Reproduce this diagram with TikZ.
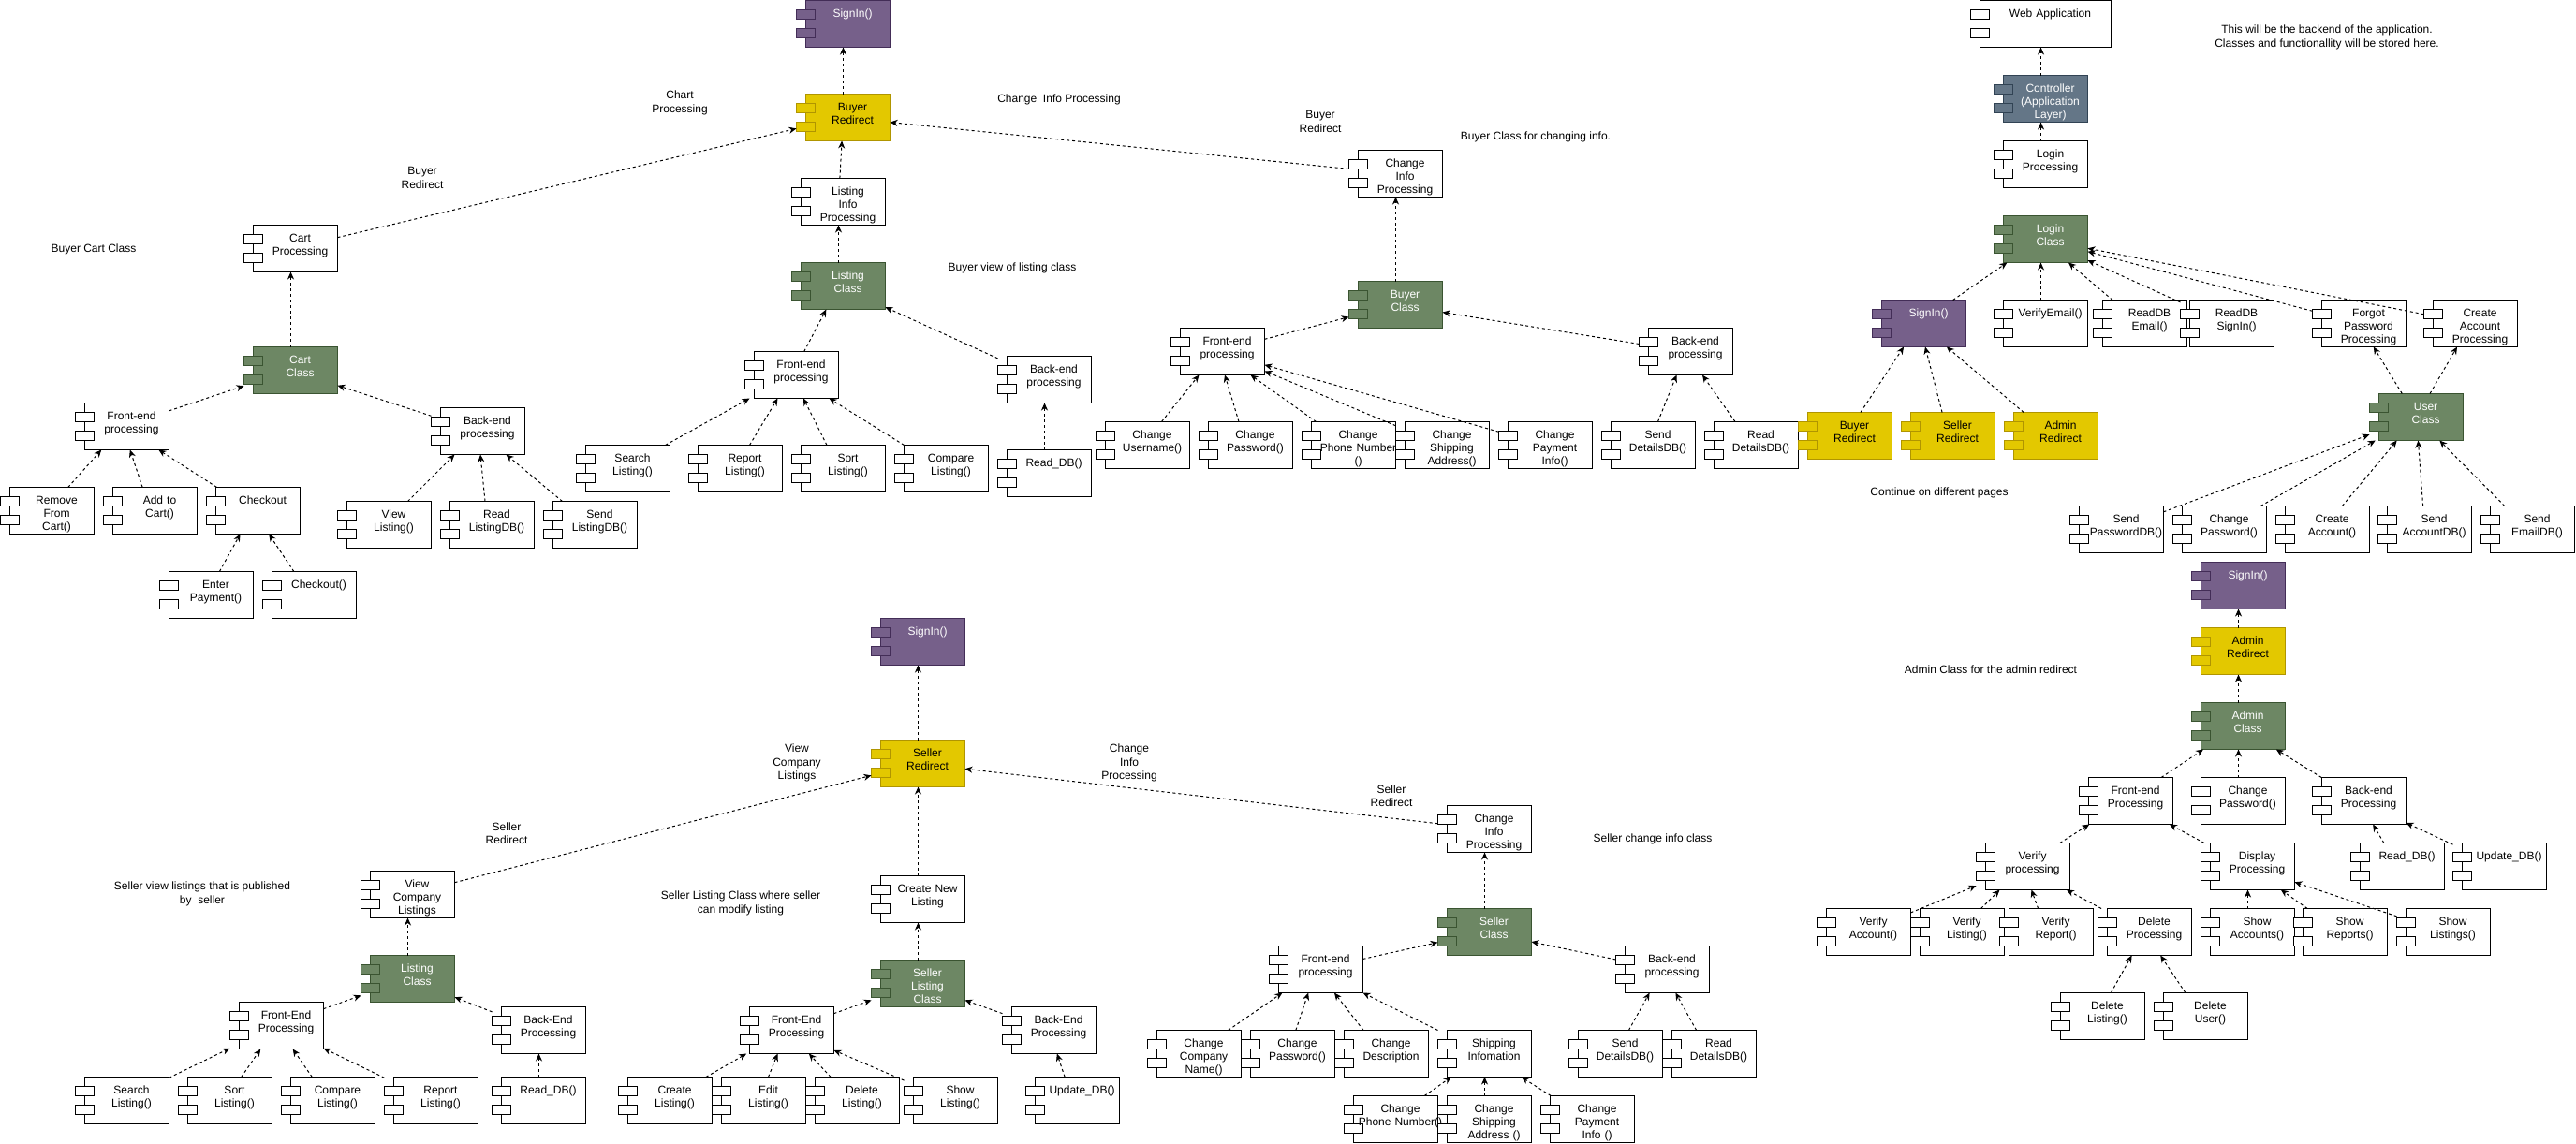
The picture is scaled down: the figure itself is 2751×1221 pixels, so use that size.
\documentclass[tikz,border=0pt]{standalone}
\usepackage{fontspec}
\setmainfont{Liberation Sans}
\usetikzlibrary{arrows.meta}

\definecolor{grnF}{HTML}{6D8764}
\definecolor{grnD}{HTML}{3A5431}
\definecolor{purF}{HTML}{76608A}
\definecolor{purD}{HTML}{432D57}
\definecolor{yelF}{HTML}{E3C800}
\definecolor{yelD}{HTML}{B09500}
\definecolor{slaF}{HTML}{647687}
\definecolor{slaD}{HTML}{314354}

\tikzset{
  kplain/.style={draw=black, fill=white, text=black, line width=1pt},
  kgreen/.style={draw=grnD, fill=grnF, text=white, line width=1pt},
  kpurple/.style={draw=purD, fill=purF, text=white, line width=1pt},
  kyellow/.style={draw=yelD, fill=yelF, text=black, line width=1pt},
  kslate/.style={draw=slaD, fill=slaF, text=white, line width=1pt},
  hull/.style={rectangle, draw=none, fill=none, inner sep=0pt, outer sep=0pt, minimum height=50pt},
  boxtext/.style={anchor=base, inner sep=0pt, text width=140pt, align=center,
    font=\fontsize{12}{14.4}\selectfont},
  note/.style={inner sep=0pt, align=center, font=\fontsize{12}{14.4}\selectfont},
  dep/.style={draw=black, line width=1pt, dash pattern=on 3pt off 3pt,
    -{Stealth[length=8pt,width=7pt,inset=2.5pt]}}
}

% component box: [body width]{name}{kind}{left}{top}{label}
\newcommand\comp[6][90]{%
  \pgfmathsetmacro\cmpW{#1}%
  \pgfmathsetmacro\cmpHullW{#1+10}%
  \pgfmathsetmacro\cmpCx{#4-10+(#1+10)/2}%
  \pgfmathsetmacro\cmpCy{#5+25}%
  \pgfmathsetmacro\cmpPx{#4-10}%
  \pgfmathsetmacro\cmpPa{#5+10}%
  \pgfmathsetmacro\cmpPb{#5+30}%
  \pgfmathsetmacro\cmpTx{#4+#1/2+5}%
  \pgfmathsetmacro\cmpTy{#5+17.5}%
  \node[hull, minimum width=\cmpHullW pt] (#2) at (\cmpCx,\cmpCy) {};
  \path[#3] (#4,#5) rectangle ++(\cmpW,50);
  \path[#3] (\cmpPx,\cmpPa) rectangle ++(20,10) (\cmpPx,\cmpPb) rectangle ++(20,10);
  \node[boxtext, #3, draw=none, fill=none] at (\cmpTx,\cmpTy) {#6};
}

\begin{document}
\begin{tikzpicture}[x=1pt, y=-1pt]
\fill[white] (0,0) rectangle (2751,1221);
\useasboundingbox (0,0) rectangle (2751,1221);

% ---------- buyer: cart ----------
\comp{cartProc}{kplain}{270.5}{240.5}{Cart\\Processing}
\comp{cartCls}{kgreen}{270.5}{370.5}{Cart\\Class}
\comp{cartFE}{kplain}{90.5}{430.5}{Front-end\\processing}
\comp{cartBE}{kplain}{470.5}{435.5}{Back-end\\processing}
\comp{rmCart}{kplain}{10.5}{520.5}{Remove\\From\\Cart()}
\comp{addCart}{kplain}{120.5}{520.5}{Add to\\Cart()}
\comp{chkout}{kplain}{230.5}{520.5}{Checkout}
\comp{payIn}{kplain}{180.5}{610.5}{Enter\\Payment()}
\comp{chkoutFn}{kplain}{290.5}{610.5}{Checkout()}
\comp{viewLst}{kplain}{370.5}{535.5}{View\\Listing()}
\comp{readLst}{kplain}{480.5}{535.5}{Read\\ListingDB()}
\comp{sendLst}{kplain}{590.5}{535.5}{Send\\ListingDB()}

% ---------- buyer: listing ----------
\comp{signA}{kpurple}{860.5}{0.5}{SignIn()}
\comp{buyRed}{kyellow}{860.5}{100.5}{Buyer\\Redirect}
\comp{lstInfo}{kplain}{855.5}{190.5}{Listing\\Info\\Processing}
\comp{lstCls}{kgreen}{855.5}{280.5}{Listing\\Class}
\comp{lstFE}{kplain}{805.5}{375.5}{Front-end\\processing}
\comp{lstBE}{kplain}{1075.5}{380.5}{Back-end\\processing}
\comp{srchL}{kplain}{625.5}{475.5}{Search\\Listing()}
\comp{reptL}{kplain}{745.5}{475.5}{Report\\Listing()}
\comp{sortL}{kplain}{855.5}{475.5}{Sort\\Listing()}
\comp{cmpL}{kplain}{965.5}{475.5}{Compare\\Listing()}
\comp{rdbL}{kplain}{1075.5}{480.5}{Read\_DB()}

% ---------- buyer: change info ----------
\comp{chgInfoB}{kplain}{1450.5}{160.5}{Change\\Info\\Processing}
\comp{buyCls}{kgreen}{1450.5}{300.5}{Buyer\\Class}
\comp{buyFE}{kplain}{1260.5}{350.5}{Front-end\\processing}
\comp{buyBE}{kplain}{1760.5}{350.5}{Back-end\\processing}
\comp{chUser}{kplain}{1180.5}{450.5}{Change\\Username()}
\comp{chPassB}{kplain}{1290.5}{450.5}{Change\\Password()}
\comp{chPhoneB}{kplain}{1400.5}{450.5}{Change\\Phone Number\\()}
\comp{chShipB}{kplain}{1500.5}{450.5}{Change\\Shipping\\Address()}
\comp{chPayB}{kplain}{1610.5}{450.5}{Change\\Payment\\Info()}
\comp{sendDetB}{kplain}{1720.5}{450.5}{Send\\DetailsDB()}
\comp{readDetB}{kplain}{1830.5}{450.5}{Read\\DetailsDB()}

% ---------- login / backend ----------
\comp[140]{webApp}{kplain}{2114.5}{0.5}{Web Application}
\comp{ctrl}{kslate}{2139.5}{80.5}{Controller\\(Application\\Layer)}
\comp{loginProc}{kplain}{2139.5}{150.5}{Login\\Processing}
\comp{loginCls}{kgreen}{2139.5}{230.5}{Login\\Class}
\comp{signL}{kpurple}{2009.5}{320.5}{SignIn()}
\comp{vEmail}{kplain}{2139.5}{320.5}{VerifyEmail()}
\comp{rdbEmail}{kplain}{2245.5}{320.5}{ReadDB\\Email()}
\comp{rdbSign}{kplain}{2338.5}{320.5}{ReadDB\\SignIn()}
\comp{forgot}{kplain}{2479.5}{320.5}{Forgot\\Password\\Processing}
\comp{newAcc}{kplain}{2598.5}{320.5}{Create\\Account\\Processing}
\comp{buyRedL}{kyellow}{1930.5}{440.5}{Buyer\\Redirect}
\comp{selRedL}{kyellow}{2040.5}{440.5}{Seller\\Redirect}
\comp{admRedL}{kyellow}{2150.5}{440.5}{Admin\\Redirect}
\comp{userCls}{kgreen}{2540.5}{420.5}{User\\Class}
\comp{sendPwd}{kplain}{2220.5}{540.5}{Send\\PasswordDB()}
\comp{chPassU}{kplain}{2330.5}{540.5}{Change\\Password()}
\comp{mkAcc}{kplain}{2440.5}{540.5}{Create\\Account()}
\comp{sendAcc}{kplain}{2549.5}{540.5}{Send\\AccountDB()}
\comp{sendMail}{kplain}{2659.5}{540.5}{Send\\EmailDB()}

% ---------- admin ----------
\comp{signAd}{kpurple}{2350.5}{600.5}{SignIn()}
\comp{admRed}{kyellow}{2350.5}{670.5}{Admin\\Redirect}
\comp{admCls}{kgreen}{2350.5}{750.5}{Admin\\Class}
\comp{admFE}{kplain}{2230.5}{830.5}{Front-end\\Processing}
\comp{chPassA}{kplain}{2350.5}{830.5}{Change\\Password()}
\comp{admBE}{kplain}{2479.5}{830.5}{Back-end\\Processing}
\comp{verProc}{kplain}{2120.5}{900.5}{Verify\\processing}
\comp{dispProc}{kplain}{2360.5}{900.5}{Display\\Processing}
\comp{rdbA}{kplain}{2520.5}{900.5}{Read\_DB()}
\comp{udbA}{kplain}{2629.5}{900.5}{Update\_DB()}
\comp{verAcc}{kplain}{1950.5}{970.5}{Verify\\Account()}
\comp{verLst}{kplain}{2050.5}{970.5}{Verify\\Listing()}
\comp{verRep}{kplain}{2145.5}{970.5}{Verify\\Report()}
\comp{delProc}{kplain}{2250.5}{970.5}{Delete\\Processing}
\comp{showAcc}{kplain}{2360.5}{970.5}{Show\\Accounts()}
\comp{showRep}{kplain}{2459.5}{970.5}{Show\\Reports()}
\comp{showLst}{kplain}{2569.5}{970.5}{Show\\Listings()}
\comp{delLst}{kplain}{2200.5}{1060.5}{Delete\\Listing()}
\comp{delUsr}{kplain}{2310.5}{1060.5}{Delete\\User()}

% ---------- seller: view listings ----------
\comp{signS}{kpurple}{940.5}{660.5}{SignIn()}
\comp{selRed}{kyellow}{940.5}{790.5}{Seller\\Redirect}
\comp{viewCo}{kplain}{395.5}{930.5}{View\\Company\\Listings}
\comp{lstClsS}{kgreen}{395.5}{1020.5}{Listing\\Class}
\comp{svFE}{kplain}{255.5}{1070.5}{Front-End\\Processing}
\comp{svBE}{kplain}{535.5}{1075.5}{Back-End\\Processing}
\comp{srchS}{kplain}{90.5}{1150.5}{Search\\Listing()}
\comp{sortS}{kplain}{200.5}{1150.5}{Sort\\Listing()}
\comp{cmpS}{kplain}{310.5}{1150.5}{Compare\\Listing()}
\comp{repS}{kplain}{420.5}{1150.5}{Report\\Listing()}
\comp{rdbS}{kplain}{535.5}{1150.5}{Read\_DB()}

% ---------- seller: listing management ----------
\comp{newLst}{kplain}{940.5}{935.5}{Create New\\Listing}
\comp{selLstCls}{kgreen}{940.5}{1025.5}{Seller\\Listing\\Class}
\comp{slFE}{kplain}{800.5}{1075.5}{Front-End\\Processing}
\comp{slBE}{kplain}{1080.5}{1075.5}{Back-End\\Processing}
\comp{mkLst}{kplain}{670.5}{1150.5}{Create\\Listing()}
\comp{edLst}{kplain}{770.5}{1150.5}{Edit\\Listing()}
\comp{dlLst}{kplain}{870.5}{1150.5}{Delete\\Listing()}
\comp{shLst}{kplain}{975.5}{1150.5}{Show\\Listing()}
\comp{udbS}{kplain}{1105.5}{1150.5}{Update\_DB()}

% ---------- seller: change info ----------
\comp{chgInfoS}{kplain}{1545.5}{860.5}{Change\\Info\\Processing}
\comp{selCls}{kgreen}{1545.5}{970.5}{Seller\\Class}
\comp{scFE}{kplain}{1365.5}{1010.5}{Front-end\\processing}
\comp{scBE}{kplain}{1735.5}{1010.5}{Back-end\\processing}
\comp{chComp}{kplain}{1235.5}{1100.5}{Change\\Company\\Name()}
\comp{chPassS}{kplain}{1335.5}{1100.5}{Change\\Password()}
\comp{chDesc}{kplain}{1435.5}{1100.5}{Change\\Description}
\comp{shipInfo}{kplain}{1545.5}{1100.5}{Shipping\\Infomation}
\comp{sendDetS}{kplain}{1685.5}{1100.5}{Send\\DetailsDB()}
\comp{readDetS}{kplain}{1785.5}{1100.5}{Read\\DetailsDB()}
\comp{chPhoneS}{kplain}{1445.5}{1170.5}{Change\\Phone Number()}
\comp{chShipS}{kplain}{1545.5}{1170.5}{Change\\Shipping\\Address ()}
\comp{chPayS}{kplain}{1655.5}{1170.5}{Change\\Payment\\Info ()}

% ---------- free labels ----------
\node[note] (nCart) at (100,266) {Buyer Cart Class};
\node[note] (nBR1) at (451,190) {Buyer\\Redirect};
\node[note] (nChart) at (726,110) {Chart\\Processing};
\node[note] (nChg) at (1131,106) {Change\ \ Info Processing};
\node[note] (nBView) at (1081,286) {Buyer view of listing class};
\node[note] (nBR2) at (1410,130) {Buyer\\Redirect};
\node[note] (nBChg) at (1640,146) {Buyer Class for changing info.};
\node[note] (nBack) at (2485,40) {This will be the backend of the application.\\Classes and functionallity will be stored here.};
\node[note] (nCont) at (2071,526) {Continue on different pages};
\node[note] (nAdm) at (2126,715) {Admin Class for the admin redirect};
\node[note] (nVCL) at (851,815) {View\\Company\\Listings};
\node[note] (nCIP) at (1206,815) {Change\\Info\\Processing};
\node[note] (nSR1) at (541,890) {Seller\\Redirect};
\node[note] (nSView) at (216,955) {Seller view listings that is published\\by\ \ seller};
\node[note] (nSLst) at (791,965) {Seller Listing Class where seller\\can modify listing};
\node[note] (nSR2) at (1486,850) {Seller\\Redirect};
\node[note] (nSChg) at (1765,896) {Seller change info class};

% ---------- dependencies ----------
\draw[dep] (buyRed) -- (signA);
\draw[dep] (cartProc) -- (buyRed);
\draw[dep] (lstInfo) -- (buyRed);
\draw[dep] (chgInfoB) -- (buyRed);
\draw[dep] (cartCls) -- (cartProc);
\draw[dep] (cartFE) -- (cartCls);
\draw[dep] (cartBE) -- (cartCls);
\foreach \s in {rmCart,addCart,chkout} \draw[dep] (\s) -- (cartFE);
\foreach \s in {payIn,chkoutFn} \draw[dep] (\s) -- (chkout);
\foreach \s in {viewLst,readLst,sendLst} \draw[dep] (\s) -- (cartBE);

\draw[dep] (lstCls) -- (lstInfo);
\draw[dep] (lstFE) -- (lstCls);
\draw[dep] (lstBE) -- (lstCls);
\foreach \s in {srchL,reptL,sortL,cmpL} \draw[dep] (\s) -- (lstFE);
\draw[dep] (rdbL) -- (lstBE);

\draw[dep] (buyCls) -- (chgInfoB);
\draw[dep] (buyFE) -- (buyCls);
\draw[dep] (buyBE) -- (buyCls);
\foreach \s in {chUser,chPassB,chPhoneB,chShipB,chPayB} \draw[dep] (\s) -- (buyFE);
\foreach \s in {sendDetB,readDetB} \draw[dep] (\s) -- (buyBE);

\draw[dep] (ctrl) -- (webApp);
\draw[dep] (loginProc) -- (ctrl);
\foreach \s in {signL,vEmail,rdbEmail,rdbSign,forgot,newAcc} \draw[dep] (\s) -- (loginCls);
\draw[dep] (userCls) -- (forgot);
\draw[dep] (userCls) -- (newAcc);
\foreach \s in {sendPwd,chPassU,mkAcc,sendAcc,sendMail} \draw[dep] (\s) -- (userCls);
\foreach \s in {buyRedL,selRedL,admRedL} \draw[dep] (\s) -- (signL);

\draw[dep] (admRed) -- (signAd);
\draw[dep] (admCls) -- (admRed);
\foreach \s in {admFE,chPassA,admBE} \draw[dep] (\s) -- (admCls);
\foreach \s in {verProc,dispProc} \draw[dep] (\s) -- (admFE);
\foreach \s in {rdbA,udbA} \draw[dep] (\s) -- (admBE);
\foreach \s in {verAcc,verLst,verRep,delProc} \draw[dep] (\s) -- (verProc);
\foreach \s in {showAcc,showRep,showLst} \draw[dep] (\s) -- (dispProc);
\foreach \s in {delLst,delUsr} \draw[dep] (\s) -- (delProc);

\draw[dep] (selRed) -- (signS);
\foreach \s in {viewCo,newLst,chgInfoS} \draw[dep] (\s) -- (selRed);
\draw[dep] (lstClsS) -- (viewCo);
\draw[dep] (svFE) -- (lstClsS);
\draw[dep] (svBE) -- (lstClsS);
\foreach \s in {srchS,sortS,cmpS,repS} \draw[dep] (\s) -- (svFE);
\draw[dep] (rdbS) -- (svBE);

\draw[dep] (selLstCls) -- (newLst);
\draw[dep] (slFE) -- (selLstCls);
\draw[dep] (slBE) -- (selLstCls);
\foreach \s in {mkLst,edLst,dlLst,shLst} \draw[dep] (\s) -- (slFE);
\draw[dep] (udbS) -- (slBE);

\draw[dep] (selCls) -- (chgInfoS);
\draw[dep] (scFE) -- (selCls);
\draw[dep] (scBE) -- (selCls);
\foreach \s in {chComp,chPassS,chDesc,shipInfo} \draw[dep] (\s) -- (scFE);
\foreach \s in {chPhoneS,chShipS,chPayS} \draw[dep] (\s) -- (shipInfo);
\foreach \s in {sendDetS,readDetS} \draw[dep] (\s) -- (scBE);
\end{tikzpicture}
\end{document}
